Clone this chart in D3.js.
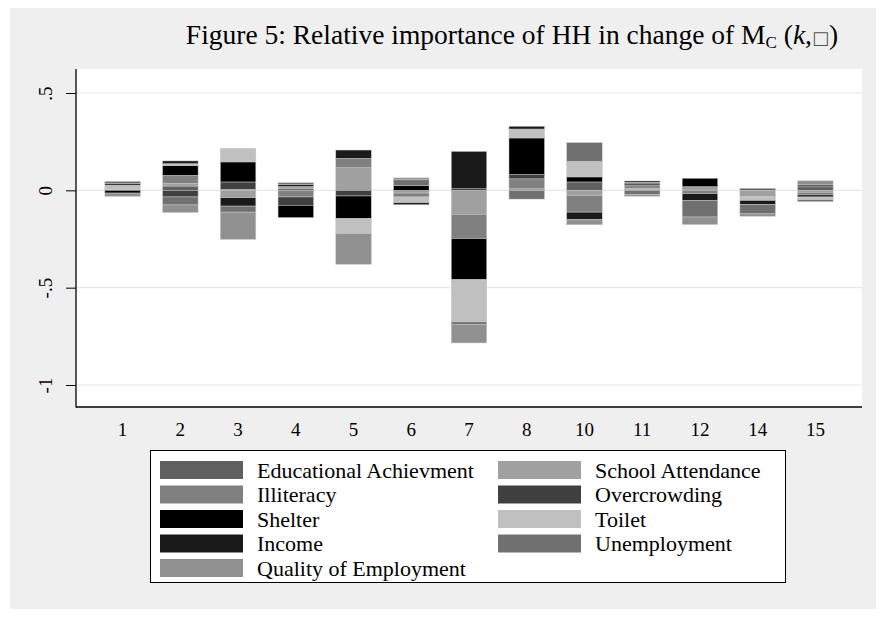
<!DOCTYPE html>
<html>
<head>
<meta charset="utf-8">
<script src="https://cdn.jsdelivr.net/npm/d3@7"></script>
<style>
  body { margin: 0; background: #fff; }
  svg { display: block; }
  text { font-family: "Liberation Serif", "Times New Roman", serif; fill: #000; }
</style>
</head>
<body>
<div id="chart"></div>
<script>
// household ids on the x axis
var categories = ["1", "2", "3", "4", "5", "6", "7", "8", "10", "11", "12", "14", "15"];

// contribution of each indicator, one value per household (same order as categories)
var educational  = [0, 0.022, 0.005, 0.008, 0, 0, 0, 0, 0.043, 0.005, 0, 0.01, 0.018];
var school       = [0.005, 0.014, -0.038, 0.012, 0.116, -0.014, -0.123, 0.008, -0.026, 0.006, 0.019, -0.026, -0.01];
var illiteracy   = [0, 0.041, 0, -0.034, 0.048, -0.02, -0.125, 0.051, -0.086, 0.012, -0.017, 0, -0.014];
var overcrowding = [0, -0.034, 0.038, -0.043, -0.029, 0, 0.008, 0.022, 0, 0.005, 0, -0.005, 0.01];
var shelter      = [-0.014, 0.051, 0.103, -0.063, -0.116, 0.025, -0.211, 0.188, 0.026, 0.009, 0.043, 0, -0.01];
var toilet       = [0.022, 0.009, 0.070, 0, -0.077, -0.03, -0.217, 0.046, 0.08, 0.004, 0, -0.021, -0.014];
var income       = [0.007, 0.014, -0.043, 0.010, 0.043, -0.01, 0.192, 0.014, -0.038, 0.007, -0.034, -0.021, 0];
var unemployment = [0.012, -0.041, -0.031, 0.009, 0, 0.029, -0.012, -0.045, 0.096, -0.022, -0.086, -0.048, -0.01];
var quality      = [-0.017, -0.039, -0.140, 0, -0.158, 0.010, -0.096, 0, -0.027, -0.008, -0.039, -0.012, 0.021];

var seriesNames = ["Educational Achievment", "School Attendance", "Illiteracy", "Overcrowding",
                   "Shelter", "Toilet", "Income", "Unemployment", "Quality of Employment"];
var seriesValues = [educational, school, illiteracy, overcrowding, shelter, toilet, income, unemployment, quality];

var yTicks = [0.5, 0, -0.5, -1];
var yTickLabels = [".5", "0", "-.5", "-1"];

var cfg = {
  w: 885, h: 637,
  plot: {left: 76, right: 862, top: 69, bottom: 407},
  bg: "#efefef",
  grid: "#e6e6e6",
  colors: ["#606060", "#a0a0a0", "#808080", "#404040", "#000000", "#c0c0c0", "#1a1a1a", "#707070", "#909090"]
};

// build the row table d3.stack wants
var table = categories.map(function(c, i) {
  var row = {cat: c};
  seriesNames.forEach(function(s, j) { row[s] = seriesValues[j][i]; });
  return row;
});

var stacked = d3.stack()
  .keys(seriesNames)
  .order(d3.stackOrderNone)
  .offset(d3.stackOffsetDiverging)(table);

var svg = d3.select("#chart").append("svg")
  .attr("width", cfg.w)
  .attr("height", cfg.h);

// grey graph region
svg.append("rect")
  .attr("x", 10).attr("y", 8)
  .attr("width", 866).attr("height", 601)
  .style("fill", cfg.bg);

// white plot region
svg.append("rect")
  .attr("x", cfg.plot.left).attr("y", cfg.plot.top)
  .attr("width", cfg.plot.right - cfg.plot.left)
  .attr("height", cfg.plot.bottom - cfg.plot.top)
  .style("fill", "#fff");

var x = d3.scaleBand()
  .domain(categories)
  .range([cfg.plot.left, cfg.plot.right])
  .paddingInner(0.385)
  .paddingOuter(0.5);

var y = d3.scaleLinear()
  .domain([-1.113, 0.6233])
  .range([cfg.plot.bottom, cfg.plot.top]);

/////////////////////////////////////////////////////////
//////////////////// gridlines + axes ///////////////////
/////////////////////////////////////////////////////////

svg.append("g").selectAll("line")
  .data(yTicks)
  .enter().append("line")
  .attr("x1", cfg.plot.left).attr("x2", cfg.plot.right)
  .attr("y1", function(d) { return y(d); })
  .attr("y2", function(d) { return y(d); })
  .style("stroke", cfg.grid)
  .style("stroke-width", 1.2);

var yAxis = svg.append("g")
  .attr("transform", "translate(" + cfg.plot.left + ",0)")
  .call(d3.axisLeft(y).tickValues(yTicks).tickSize(10)
    .tickFormat(function(d, i) { return yTickLabels[i]; }));
yAxis.select(".domain").remove();
yAxis.selectAll(".tick line").style("stroke", "#000").style("stroke-width", 1);
yAxis.selectAll(".tick text")
  .attr("x", null).attr("dy", null)
  .attr("transform", "translate(-31,0) rotate(-90)")
  .attr("text-anchor", "middle")
  .attr("dy", "0.35em")
  .style("font-size", "19px")
  .style("font-family", "'Liberation Serif', serif");

var xAxis = svg.append("g")
  .attr("transform", "translate(0," + cfg.plot.bottom + ")")
  .call(d3.axisBottom(x).tickSize(0).tickPadding(16));
xAxis.select(".domain").remove();
xAxis.selectAll(".tick text")
  .style("font-size", "19px")
  .style("font-family", "'Liberation Serif', serif");

// axis lines
svg.append("line")
  .attr("x1", cfg.plot.left).attr("x2", cfg.plot.left)
  .attr("y1", cfg.plot.top).attr("y2", cfg.plot.bottom + 0.5)
  .style("stroke", "#000").style("stroke-width", 1.3);
svg.append("line")
  .attr("x1", cfg.plot.left).attr("x2", cfg.plot.right)
  .attr("y1", cfg.plot.bottom).attr("y2", cfg.plot.bottom)
  .style("stroke", "#000").style("stroke-width", 1.3);

/////////////////////////////////////////////////////////
//////////////////// stacked bars ///////////////////////
/////////////////////////////////////////////////////////

var layers = svg.append("g").selectAll(".layer")
  .data(stacked)
  .enter().append("g")
  .attr("class", "layer")
  .style("fill", function(d, i) { return cfg.colors[i]; });

layers.selectAll("rect")
  .data(function(d) { return d.filter(function(p) { return p[1] - p[0] !== 0; }); })
  .enter().append("rect")
  .attr("x", function(d) { return x(d.data.cat); })
  .attr("width", x.bandwidth())
  .attr("y", function(d) { return y(d[1]); })
  .attr("height", function(d) { return y(d[0]) - y(d[1]); })
  .style("stroke", "#c8c8c8")
  .style("stroke-width", 0.5);

/////////////////////////////////////////////////////////
//////////////////// title //////////////////////////////
/////////////////////////////////////////////////////////

var title = svg.append("text")
  .attr("x", 512).attr("y", 44)
  .attr("text-anchor", "middle")
  .style("font-size", "27.5px");
title.append("tspan").text("Figure 5: Relative importance of HH in change of M");
title.append("tspan").attr("dy", 4).style("font-size", "17px").text("C");
title.append("tspan").attr("dy", -4).text(" (");
title.append("tspan").style("font-style", "italic").text("k");
title.append("tspan").text(",");
title.append("tspan").style("font-family", "'DejaVu Sans', sans-serif").style("font-size", "18px")
  .style("fill", "#555").text("\u25A1");
title.append("tspan").text(")");

/////////////////////////////////////////////////////////
//////////////////// legend /////////////////////////////
/////////////////////////////////////////////////////////

svg.append("rect")
  .attr("x", 150.5).attr("y", 450.5)
  .attr("width", 635).attr("height", 132)
  .style("fill", "#fff")
  .style("stroke", "#000")
  .style("stroke-width", 1);

var legend = svg.append("g").selectAll(".legendItem")
  .data(seriesNames)
  .enter().append("g")
  .attr("class", "legendItem")
  .attr("transform", function(d, i) {
    var col = i % 2, row = Math.floor(i / 2);
    return "translate(" + (160 + col * 338) + "," + (470 + row * 24.5) + ")";
  });

legend.append("rect")
  .attr("x", 0).attr("y", -9)
  .attr("width", 83).attr("height", 18)
  .style("fill", function(d, i) { return cfg.colors[i]; });

legend.append("text")
  .attr("x", 97).attr("y", 0)
  .attr("dy", "0.35em")
  .style("font-size", "22px")
  .text(function(d) { return d; });
</script>
</body>
</html>
